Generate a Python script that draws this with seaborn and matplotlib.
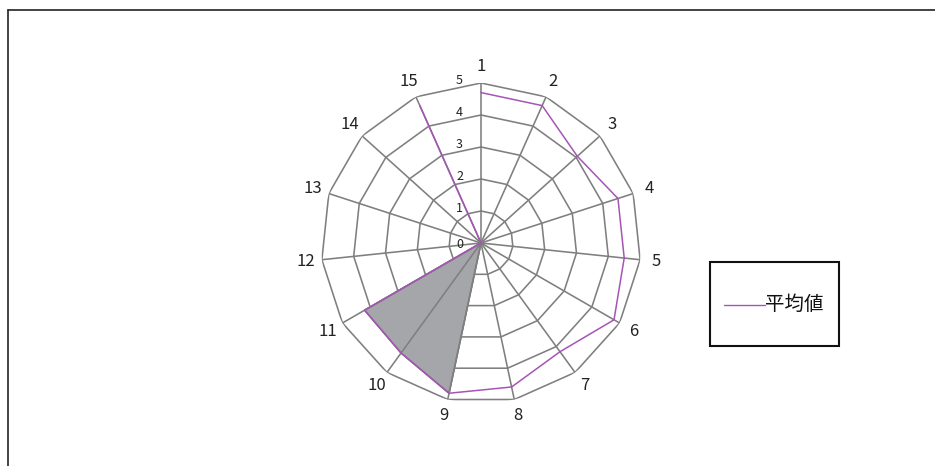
import numpy as np
import pandas as pd
import matplotlib
matplotlib.use("Agg")
import matplotlib.pyplot as plt
import seaborn as sns
from matplotlib.lines import Line2D
from matplotlib.patches import Rectangle

categories = [str(i) for i in range(1, 16)]
avg_values = [4.7, 4.7, 4.05, 4.5, 4.5, 4.8, 4.2, 4.6, 4.8, 4.25, 4.2, 0, 0, 0, 4.7]
fill_values = [0, 0, 0, 0, 0, 0, 0, 0, 4.8, 4.25, 4.2, 0, 0, 0, 0]
radial_ticks = [0, 1, 2, 3, 4, 5]
series_name = "平均値"

sns.set_theme(style="white")
plt.rcParams['font.family'] = ['Noto Sans CJK JP', 'DejaVu Sans']

W, H = 935, 466
fig = plt.figure(figsize=(W / 100, H / 100), dpi=100)
cx, cy, R = 481, 243, 160
ax = fig.add_axes([(cx - R) / W, (H - cy - R) / H, 2 * R / W, 2 * R / H], projection='polar')
ax.set_theta_zero_location('N')
ax.set_theta_direction(-1)
ax.set_ylim(0, 5)
ax.set_facecolor('none')
ax.grid(False)
ax.spines['polar'].set_visible(False)
ax.set_xticks([])
ax.set_yticks([])

n = len(categories)
theta = np.arange(n) * 2 * np.pi / n
theta_c = np.append(theta, theta[0])
grid_col = '#7f7f7f'

# polygon rings
for r in radial_ticks[1:]:
    ax.plot(theta_c, [r] * (n + 1), color=grid_col, lw=1.15, zorder=1)

# filled series
fv = np.append(fill_values, fill_values[0])
ax.fill(theta_c, fv, color='#a5a6a9', zorder=2)
ax.plot(theta_c, fv, color='#777777', lw=1.1, zorder=2.5)

# spokes
for t in theta:
    ax.plot([t, t], [0, 5], color=grid_col, lw=1.15, zorder=3)

# average line
df = pd.DataFrame({'theta': theta_c, 'value': np.append(avg_values, avg_values[0])})
sns.lineplot(data=df, x='theta', y='value', sort=False, color='#a555b5', lw=1.1,
             ax=ax, zorder=4, label=series_name, legend=False)
ax.set_xlabel('')
ax.set_ylabel('')

# category labels
for t, lab in zip(theta, categories):
    ax.text(t, 5.52, lab, ha='center', va='center', fontsize=12, color='#222222')

# radial labels
for r in radial_ticks:
    yy = cy - r * R / 5 + (2 if r == 0 else -3)
    fig.text((cx - 18) / W, 1 - yy / H, str(r), ha='right', va='center', fontsize=9, color='#222222')

# legend
fig.patches.append(Rectangle((710 / W, 1 - 346 / H), 129 / W, 84 / H, transform=fig.transFigure,
                             fill=False, edgecolor='#111111', lw=1.5))
fig.add_artist(Line2D([724 / W, 765 / W], [1 - 305 / H, 1 - 305 / H], color='#a555b5', lw=1.0))
fig.text(765 / W, 1 - 304 / H, series_name, ha='left', va='center', fontsize=14, color='#111111')

# outer border (left and top)
fig.add_artist(Line2D([8 / W, 8 / W], [0, 1 - 10 / H], color='#222222', lw=1.2))
fig.add_artist(Line2D([8 / W, 1], [1 - 10 / H, 1 - 10 / H], color='#222222', lw=1.2))

fig.savefig('out.png', dpi=100, facecolor='white')
